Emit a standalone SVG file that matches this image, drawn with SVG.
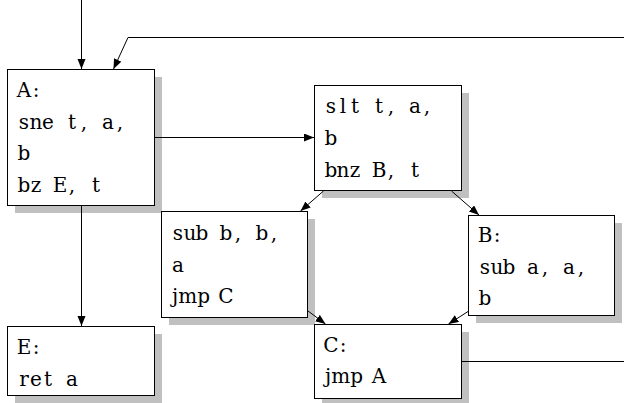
<svg xmlns="http://www.w3.org/2000/svg" width="624" height="403" viewBox="0 0 624 403">
<style>
.shadow{fill:#c0c0c0;stroke:none}
.box{fill:#ffffff;stroke:#000000;stroke-width:1}
.lbl{font-family:"DejaVu Serif","Liberation Serif",serif;font-size:20px;fill:#000000;text-anchor:middle}
.edge{fill:none;stroke:#000000;stroke-width:1;marker-end:url(#arr)}
</style>
<defs>
<marker id="arr" markerUnits="userSpaceOnUse" markerWidth="12" markerHeight="10" refX="10" refY="4" orient="auto">
<path d="M0,0 L10,4 L0,8 Z" fill="#000000"/>
</marker>
</defs>
<g id="node-A">
<rect class="shadow" x="15" y="77" width="147" height="136"/>
<rect class="box" x="7.5" y="69.5" width="147" height="136"/>
<text class="lbl" x="24 36" y="97">A:</text>
<text class="lbl" x="24 36 48 60 72 84 96 108 120" y="128.7">sne t, a,</text>
<text class="lbl" x="24" y="160.3">b</text>
<text class="lbl" x="24 36 48 60 72 84 96" y="192">bz E, t</text>
</g>
<g id="node-slt">
<rect class="shadow" x="322" y="93" width="147" height="105"/>
<rect class="box" x="314.5" y="85.5" width="147" height="105"/>
<text class="lbl" x="331 343 355 367 379 391 403 415 427" y="113.3">slt t, a,</text>
<text class="lbl" x="331" y="145">b</text>
<text class="lbl" x="331 343 355 367 379 391 403 415" y="176.7">bnz B, t</text>
</g>
<g id="node-sub">
<rect class="shadow" x="169" y="219" width="146" height="106"/>
<rect class="box" x="161.5" y="211.5" width="146" height="106"/>
<text class="lbl" x="178 190 202 214 226 238 250 262 274" y="240">sub b, b,</text>
<text class="lbl" x="178" y="271.7">a</text>
<text class="lbl" y="303.4"><tspan x="191">jmp</tspan><tspan x="214"> </tspan><tspan x="226">C</tspan></text>
</g>
<g id="node-B">
<rect class="shadow" x="476" y="223" width="146" height="100"/>
<rect class="box" x="468.5" y="215.5" width="146" height="100"/>
<text class="lbl" x="485 497" y="242">B:</text>
<text class="lbl" x="485 497 509 521 533 545 557 569 581" y="274">sub a, a,</text>
<text class="lbl" x="485" y="305">b</text>
</g>
<g id="node-E">
<rect class="shadow" x="15" y="334" width="147" height="69"/>
<rect class="box" x="7.5" y="326.5" width="147" height="69"/>
<text class="lbl" x="24 36" y="354">E:</text>
<text class="lbl" x="24 36 48 60 72" y="385.5">ret a</text>
</g>
<g id="node-C">
<rect class="shadow" x="322" y="332" width="147" height="74"/>
<rect class="box" x="314.5" y="324.5" width="147" height="74"/>
<text class="lbl" x="331 343" y="351.7">C:</text>
<text class="lbl" y="383.3"><tspan x="344">jmp</tspan><tspan x="367"> </tspan><tspan x="379">A</tspan></text>
</g>
<g id="connectors">
<path class="edge" d="M81.5,0 V69"/>
<path class="edge" d="M462,361.5 H640 V37.5 H128 L113.5,69"/>
<path class="edge" d="M155,137.5 H314"/>
<path class="edge" d="M81.5,206 V326"/>
<path class="edge" d="M323.5,191 L300.5,211"/>
<path class="edge" d="M451.5,191 L479,215"/>
<path class="edge" d="M308,311 L325.5,324"/>
<path class="edge" d="M468,311.5 L448.5,324"/>
</g>
</svg>
